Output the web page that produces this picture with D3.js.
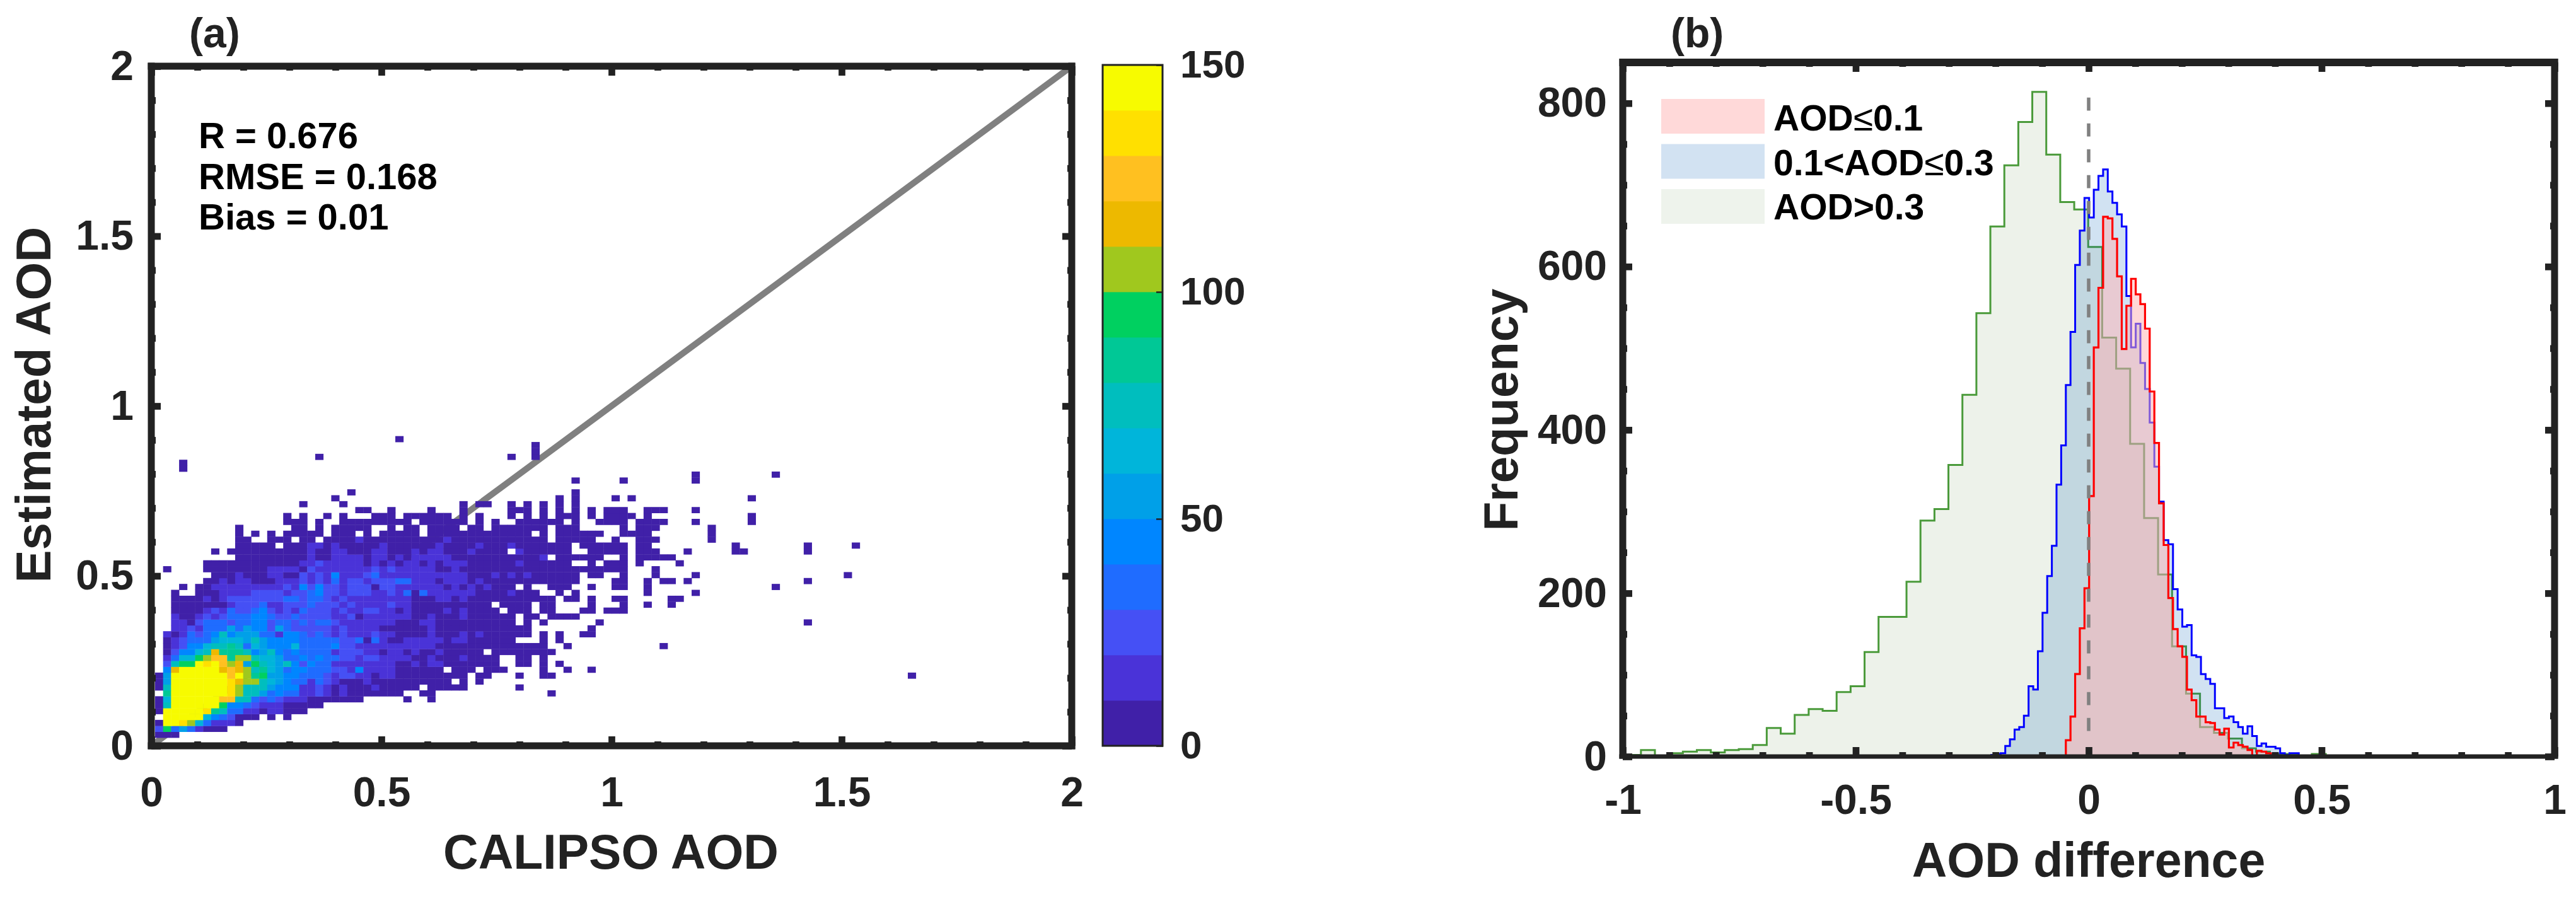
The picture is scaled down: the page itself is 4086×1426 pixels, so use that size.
<!DOCTYPE html>
<html>
<head>
<meta charset="utf-8">
<script src="https://cdn.jsdelivr.net/npm/d3@7"></script>
<style>
html, body { margin: 0; padding: 0; background: #fff; }
svg { display: block; }
text { font-family: "Liberation Sans", Arial, sans-serif; font-weight: bold; fill: #222; }
</style>
</head>
<body>
<svg id="chart" width="4086" height="1426"></svg>
<script>
// panel (a): one char per cell, '.' empty, otherwise colorbar band 0-e
// heatLeft starts at column 0, heatRight at column 30, index = row from the bottom
var heatLeft = [
  "000",
  "293531000",
  "0eeda631110",
  ".eeeee6432000.0.0",
  "0eeeeed873311011000",
  "07eeeeee9443211100000",
  "06eeeeeecc7732321110000000",
  ".8eeeeeeeda7753433112101000000",
  "07eeeeeeeda7775444112101000100",
  "05eeeeeeedbaa76543313210001000",
  "05eeeeeeecea895544333212211011",
  ".4beeeeebcba786534433322141111",
  ".2799edecab5976574243311111111",
  ".13669acc8aa766533434332212211",
  ".024467b8887457434333312221101",
  ".01244677873654446333342211111",
  ".012333566657544443333322303 10".replace(" ", ""),
  ".10132347455533144323212111211",
  "..1121333535442532222212111100",
  "..1102333233442332323321111111",
  "..1001212333443223222211201111",
  "..0000121322342121322212112211",
  "..0000000122231122232221211112",
  "..0000101222222233233212111111",
  "..0..000111122221223422122211 2".replace(" ", ""),
  "...0.0011111111121424221222022",
  "......001011000111212131221222",
  ".......00010001100212141112311",
  ".0....000000001111021111111212",
  "......000000000000112111110101",
  "..........00000000010011110110",
  ".......0.000000000010011000110",
  "..........00000.00011010000010",
  "..........00..000.00.000010000",
  "..........0.0.0.00000.000.0.00",
  "..........0......00.0.00000..0",
  "................000.0..0000000",
  "................0.0..0.0...000",
  ".........................00..0",
  "..................0....0......"
];
var heatRight = [
  "", "", "", "", "", "",
  ".0..0",
  "0..00..............0",
  "000.00000......0",
  "0000000.0.0",
  "000000000.00...0..00",
  "000000.000.000....0..0..0",
  "0010110000000..00.0.0",
  "1100100010000..00.0",
  "10100100000.00000000",
  "1111100000000000000..0...........0",
  "011111011000000...0.0",
  "00001000101000000.0.0..00",
  "00001000000000000.......0",
  "000110000000000.0.0......0",
  "110010001000000.00.0000",
  "0100001010000.000.00...00.000",
  "110000000000.0000.00....0...0..0..0",
  "11000110100000000000.00.0..00.....00",
  "130311111100001000..0.0........0.....0",
  "111111010101000.0..000..0..00..0",
  "33111011101000000000000....00..0.00.0",
  "11111111100010101000000.00..0...0....0",
  "11111001000000000000000000000...0",
  "0110101110000001000000..0.000.0....0",
  "1011111000000000001.000000..0.00000",
  "00101100010000.1000000..00000.000...0",
  "0000010000100010000000.000000.00",
  "0000001000000000000.00000..0..000......0",
  "000.0000000000000.0.000000..0000.......0",
  ".00.0000.00.0000000.000.....0.000......0",
  "00.000000.0.0..000000.0..0000.0000...0",
  ".000000.0.0...0.0.0.000.0.0000.0",
  "....0...0.....000.0.0.0.0.000..000...0",
  "........0.00..0.0.0.0.0"
];
// lone lowest-band cells outside the strings: [column, row]
var strayCells = [
  [22,40],[50,40],[52,40],[57,40],[59,40],[24,41],[52,41],[52,43],[58,43],[67,43],[67,44],
  [3,45],[3,46],[20,47],[44,47],[47,47],[47,48],[47,49],[30,50],[72,31],[72,32],[73,31],
  [81,31],[81,32],[87,32],[77,44],[74,40],[74,36],[74,37],[81,26],[86,27],[77,25],[81,19],[94,10]
];
var binSize = 0.0174, binStartX = 0.0082, binStartY = 0.0241;

var bandColors = ["#4020a8","#4a33d8","#4550f5","#1f6cff","#0086ff","#00a0e8","#00b5da","#00bebe",
                  "#00c896","#00d060","#a0c81e","#edb900","#ffc020","#ffe000","#f7fb00"];
var barTicks = [0, 50, 100, 150];

var stats = ["R = 0.676", "RMSE = 0.168", "Bias = 0.01"];

// panel (b): counts per bin
var greenStart = -0.991, greenBin = 0.03;
var greenCounts = [2,8,1,4,6,8,5,8,9,14,35,28,51,58,56,79,86,128,171,171,214,289,303,357,443,543,649,724,777,814,
                   737,679,670,624,513,475,383,292,223,135,77,36,29,22,10,6,3,3,1,3];
var blueStart = -0.209, fineBin = 0.01;
var blueCounts = [2,3,4,13,21,33,36,50,86,82,129,176,221,258,333,381,455,520,602,644,684,660,694,711,719,692,678,664,649,
                  564,501,530,482,450,409,355,312,265,260,205,180,159,161,124,122,101,95,89,59,59,47,49,42,36,28,37,25,13,16,12,12,10,4,2,4,4];
var redStart = -0.049;
var redCounts = [20,49,101,157,206,319,501,574,661,659,634,588,499,552,585,566,554,524,447,384,310,259,194,156,135,122,82,69,49,49,
                 42,41,33,27,34,11,17,14,12,8,1,7,6,4];
var legendLabels = [["AOD", "0.1"], ["0.1<AOD", "0.3"], ["AOD>0.3"]];

var svg = d3.select("#chart");
var dark = "#222";

var xa = d3.scaleLinear().domain([0, 2]).range([240, 1700]);
var ya = d3.scaleLinear().domain([0, 2]).range([1183, 105]);
var xb = d3.scaleLinear().domain([-1, 1]).range([2574, 4052]);
var yb = d3.scaleLinear().domain([0, 850]).range([1200, 99]);

function addTicks(scale, orient, pos, majors, minors, showLabels, pad, size) {
    var make = {bottom: d3.axisBottom, top: d3.axisTop, left: d3.axisLeft, right: d3.axisRight}[orient];
    var horiz = orient == "bottom" || orient == "top";
    var tr = horiz ? "translate(0," + pos + ")" : "translate(" + pos + ",0)";
    svg.append("g").attr("transform", tr)
        .call(make(scale).tickValues(minors).tickSize(-7).tickFormat(""))
        .call(function(g) { g.select(".domain").remove(); g.selectAll("line").attr("stroke", dark).attr("stroke-width", 10.7); });
    var maj = make(scale).tickValues(majors).tickSize(-15);
    // plain hyphen for negatives, as in the figure
    if (showLabels) maj.tickPadding(pad).tickFormat(function(d) { return String(d); }); else maj.tickFormat("");
    svg.append("g").attr("transform", tr)
        .call(maj)
        .call(function(g) {
            g.select(".domain").remove();
            g.selectAll("line").attr("stroke", dark).attr("stroke-width", 10.7);
            g.selectAll("text").style("font-family", '"Liberation Sans"').style("font-weight", "bold")
                .style("font-size", size + "px").style("fill", dark);
        });
}

function addBox(x, y, wSide, wTop, wBottom) {
    var x0 = x.range()[0], x1 = x.range()[1], y0 = y.range()[0], y1 = y.range()[1];
    [[x0, y1 - wTop / 2, x0, y0 + wBottom / 2, wSide], [x1, y1 - wTop / 2, x1, y0 + wBottom / 2, wSide],
     [x0 - wSide / 2, y1, x1 + wSide / 2, y1, wTop], [x0 - wSide / 2, y0, x1 + wSide / 2, y0, wBottom]]
    .forEach(function(s) {
        svg.append("line").attr("x1", s[0]).attr("y1", s[1]).attr("x2", s[2]).attr("y2", s[3])
            .attr("stroke", dark).attr("stroke-width", s[4]);
    });
}

function title(str, px, py, size, rot) {
    svg.append("text").attr("text-anchor", "middle").attr("font-size", size)
        .attr("transform", "translate(" + px + "," + py + ")" + (rot ? " rotate(-90)" : ""))
        .text(str);
}

/* ---------- panel a ---------- */
var cells = [];
heatLeft.forEach(function(row, j) {
    row.split("").forEach(function(c, i) { if (c != ".") cells.push({col: i, row: j, band: parseInt(c, 16)}); });
});
heatRight.forEach(function(row, j) {
    row.split("").forEach(function(c, i) { if (c != ".") cells.push({col: i + 30, row: j, band: parseInt(c, 16)}); });
});
strayCells.forEach(function(c) { cells.push({col: c[0], row: c[1], band: 0}); });

svg.append("line").attr("x1", xa(0)).attr("y1", ya(0)).attr("x2", xa(2)).attr("y2", ya(2))
    .attr("stroke", "#808080").attr("stroke-width", 10);

svg.append("g").selectAll("rect").data(cells).enter().append("rect")
    .attr("x", function(d) { return xa(binStartX + d.col * binSize); })
    .attr("y", function(d) { return ya(binStartY + (d.row + 1) * binSize); })
    .attr("width", xa(binSize) - xa(0) + 0.4)
    .attr("height", ya(0) - ya(binSize) + 0.4)
    .attr("fill", function(d) { return bandColors[d.band]; });

var xTicks = [0, 0.5, 1, 1.5, 2];
var minorA = d3.range(0, 21).map(function(d) { return d / 10; }).filter(function(d) { return xTicks.indexOf(d) < 0; });
addTicks(xa, "bottom", 1183, xTicks, minorA, true, 49, 66);
addTicks(ya, "left", 240, xTicks, minorA, true, 28, 66);
addTicks(xa, "top", 105, xTicks, minorA, false);
addTicks(ya, "right", 1700, xTicks, minorA, false);
addBox(xa, ya, 11, 11, 11);

stats.forEach(function(s, i) {
    svg.append("text").attr("x", 315).attr("y", 235 + i * 64.5).attr("font-size", 58).style("fill", "#000").text(s);
});
svg.append("text").attr("x", 300).attr("y", 75).attr("font-size", 66).text("(a)");
title("CALIPSO AOD", 969, 1378, 77);
title("Estimated AOD", 80, 642, 78, true);

// colorbar
var yc = d3.scaleLinear().domain([0, 150]).range([1183, 103]);
svg.append("g").selectAll("rect").data(bandColors).enter().append("rect")
    .attr("x", 1749).attr("width", 95)
    .attr("y", function(d, i) { return yc((i + 1) * 10); })
    .attr("height", yc(0) - yc(10) + 0.4)
    .attr("fill", function(d) { return d; });
svg.append("g").attr("transform", "translate(1845,0)")
    .call(d3.axisRight(yc).tickValues(barTicks).tickSize(-11).tickPadding(27))
    .call(function(g) {
        g.select(".domain").remove();
        g.selectAll("line").attr("stroke", dark).attr("stroke-width", 2.5);
        g.selectAll("text").style("font-family", '"Liberation Sans"').style("font-weight", "bold")
            .style("font-size", "62px").style("fill", dark);
    });
svg.append("rect").attr("x", 1749).attr("y", yc(150)).attr("width", 95).attr("height", yc(0) - yc(150))
    .attr("fill", "none").attr("stroke", "#222").attr("stroke-width", 3);

/* ---------- panel b ---------- */
function histPoints(start, bin, counts) {
    var pts = counts.map(function(c, i) { return [start + i * bin, c]; });
    pts.unshift([start, 0]);
    pts.push([start + counts.length * bin, 0]);
    return pts;
}
var stepLine = d3.line().curve(d3.curveStepAfter)
    .x(function(d) { return xb(d[0]); }).y(function(d) { return yb(d[1]); });
var stepArea = d3.area().curve(d3.curveStepAfter)
    .x(function(d) { return xb(d[0]); }).y0(yb(0)).y1(function(d) { return yb(d[1]); });

var hists = [
    {pts: histPoints(greenStart, greenBin, greenCounts), fill: "rgb(80,130,50)", alpha: 0.1, stroke: "#4a9a3a", w: 3},
    {pts: histPoints(blueStart, fineBin, blueCounts), fill: "rgb(0,92,184)", alpha: 0.18, stroke: "#0000ff", w: 3},
    {pts: histPoints(redStart, fineBin, redCounts), fill: "rgb(255,177,177)", alpha: 0.5, stroke: "#ff0000", w: 3.2}
];
hists.forEach(function(h) {
    svg.append("path").attr("d", stepArea(h.pts)).attr("fill", h.fill).attr("fill-opacity", h.alpha);
    svg.append("path").attr("d", stepLine(h.pts)).attr("fill", "none").attr("stroke", h.stroke).attr("stroke-width", h.w);
});
svg.append("line").attr("x1", xb(0)).attr("x2", xb(0)).attr("y1", yb(807)).attr("y2", yb(25))
    .attr("stroke", "#808080").attr("stroke-width", 5.5).attr("stroke-dasharray", "20.7 20.3");

var xTicksB = [-1, -0.5, 0, 0.5, 1];
var minorBx = d3.range(-10, 11).map(function(d) { return d / 10; }).filter(function(d) { return xTicksB.indexOf(d) < 0; });
var yTicksB = [0, 200, 400, 600, 800];
var minorBy = d3.range(0, 851, 50).filter(function(d) { return yTicksB.indexOf(d) < 0; });
addTicks(xb, "bottom", 1200, xTicksB, minorBx, true, 44, 66);
addTicks(yb, "left", 2574, yTicksB, minorBy, true, 25, 66);
addTicks(xb, "top", 99, xTicksB, minorBx, false);
addTicks(yb, "right", 4052, yTicksB, minorBy, false);
addBox(xb, yb, 11, 12, 7);

var legendFill = ["#ffd9d9", "#d2e2f2", "#eef3ec"];
legendLabels.forEach(function(l, i) {
    svg.append("rect").attr("x", 2635).attr("y", 157 + i * 71.5).attr("width", 164).attr("height", 55).attr("fill", legendFill[i]);
    var t = svg.append("text").attr("x", 2813).attr("y", 207 + i * 70.5).attr("font-size", 57).style("fill", "#000").text(l[0]);
    if (l[1]) {
        // the figure's less-or-equal sign is a light symbol glyph
        t.append("tspan").style("font-weight", "normal").style("fill", "#000").text("≤");
        t.append("tspan").text(l[1]).style("fill", "#000");
    }
});
svg.append("text").attr("x", 2650).attr("y", 75).attr("font-size", 66).text("(b)");
title("Frequency", 2407, 650, 76, true);
title("AOD difference", 3313, 1391, 77);
</script>
</body>
</html>
